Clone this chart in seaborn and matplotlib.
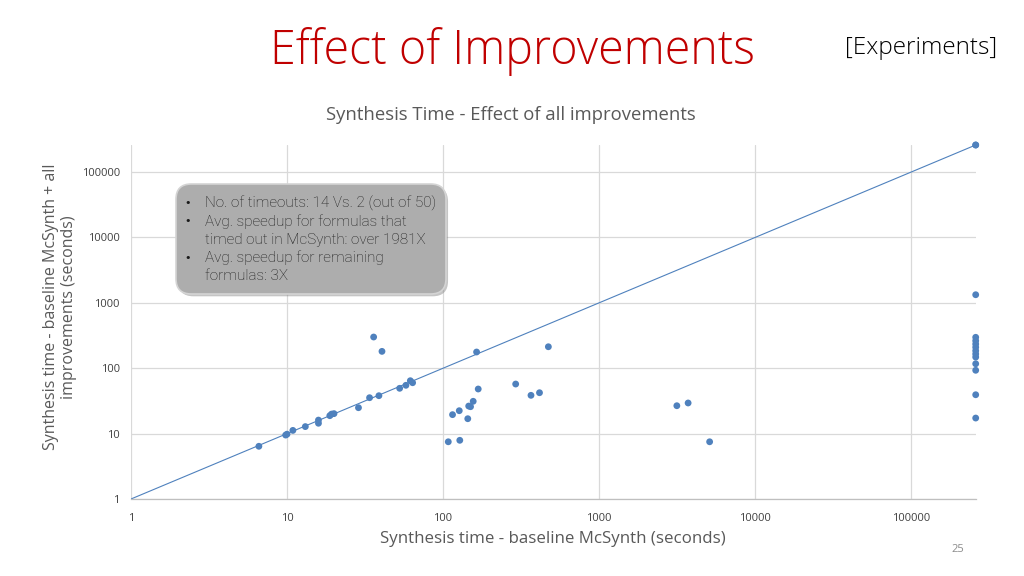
import matplotlib
matplotlib.use("Agg")
import matplotlib.pyplot as plt
import seaborn as sns
import pandas as pd
from matplotlib.patches import FancyBboxPatch

# ---- data (seconds) ----
TIMEOUT = 259200
baseline_time = [6.6, 9.8, 10.0, 10.9, 13.1, 15.9, 15.9, 18.8, 20.0, 19.3,
                 28.7, 33.8, 38.8, 52.7, 57.8, 61.7, 63.8, 35.9, 40.6, 164,
                 473, 108, 128, 115, 127, 144, 146, 150, 156, 168,
                 292, 366, 415, 3150, 3720, 5110,
                 TIMEOUT, TIMEOUT, TIMEOUT, TIMEOUT, TIMEOUT, TIMEOUT, TIMEOUT,
                 TIMEOUT, TIMEOUT, TIMEOUT, TIMEOUT, TIMEOUT, TIMEOUT, TIMEOUT]
improved_time = [6.4, 9.5, 9.8, 11.2, 12.8, 16.1, 14.4, 18.8, 20.2, 19.9,
                 24.9, 35.4, 38.0, 49.3, 54.8, 64.4, 60.0, 300, 181, 177,
                 213, 7.5, 7.9, 19.5, 22.4, 16.9, 26.4, 25.8, 31.2, 48.1,
                 57.3, 38.5, 42.2, 26.7, 29.4, 7.5,
                 TIMEOUT, TIMEOUT, 1330, 297, 263, 234, 209,
                 185, 165, 148, 117, 93, 39.3, 17.3]
tick_values = [1, 10, 100, 1000, 10000, 100000]
tick_labels = ["1", "10", "100", "1000", "10000", "100000"]

df = pd.DataFrame({"baseline": baseline_time, "improved": improved_time})

sns.set_style("white")
plt.rcParams["font.family"] = ["Open Sans", "DejaVu Sans"]

fig = plt.figure(figsize=(10.24, 5.76), dpi=100)
ax = fig.add_axes([131 / 1024, 1 - 499 / 576, (975.7 - 131) / 1024, (499 - 145) / 576])

blue = "#4F81BD"
ax.plot([1, TIMEOUT], [1, TIMEOUT], color=blue, lw=0.8, zorder=2)
sns.scatterplot(data=df, x="baseline", y="improved", ax=ax, color=blue,
                s=24, edgecolor="none", zorder=3, clip_on=False)

ax.set_xscale("log")
ax.set_yscale("log")
ax.set_xlim(1, TIMEOUT)
ax.set_ylim(1, TIMEOUT)
ax.set_xticks(tick_values)
ax.set_xticklabels(tick_labels)
ax.set_yticks(tick_values)
ax.set_yticklabels(tick_labels)
ax.minorticks_off()
ax.tick_params(axis="both", length=0, labelsize=8, labelcolor="#404040")
ax.tick_params(axis="x", pad=10)
ax.tick_params(axis="y", pad=8)
ax.grid(True, color="#D9D9D9", lw=0.9)
ax.set_axisbelow(True)
for s in ["top", "right", "left"]:
    ax.spines[s].set_visible(False)
ax.spines["bottom"].set_color("#BFBFBF")
ax.spines["bottom"].set_linewidth(0.9)

ax.set_xlabel("Synthesis time - baseline McSynth (seconds)", fontsize=12.2,
              color="#595959", va="center")
ax.xaxis.set_label_coords((553 - 131) / (975.7 - 131), -(539 - 499) / (499 - 145))
ax.set_ylabel("Synthesis time - baseline McSynth + all\nimprovements (seconds)",
              fontsize=11.5, color="#595959", linespacing=1.15, va="center")
ax.yaxis.set_label_coords(-(131 - 60) / (975.7 - 131), (499 - 307) / (499 - 145))

# titles
fig.text(512 / 1024, 1 - 51 / 576, "Effect of Improvements", color="#C00000",
         fontsize=33.5, ha="center", va="center", fontweight="light")
fig.text(921.5 / 1024, 1 - 48 / 576, "[Experiments]", color="#000000",
         fontsize=17.5, ha="center", va="center", fontweight="light")
fig.text(511 / 1024, 1 - 115 / 576, "Synthesis Time - Effect of all improvements",
         color="#595959", fontsize=13.3, ha="center", va="center")
fig.text(958 / 1024, 1 - 549 / 576, "25", color="#8C8C8C", fontsize=8,
         ha="center", va="center")

# annotation box with shadow
bx, by, bw, bh = 176 / 1024, 1 - 294 / 576, (446 - 176) / 1024, (294 - 184) / 576
shadow = FancyBboxPatch((bx + 0.002, by - 0.004), bw, bh,
                        boxstyle="round,pad=0,rounding_size=0.015",
                        transform=fig.transFigure, facecolor="#7F7F7F",
                        edgecolor="none", alpha=0.45, mutation_aspect=1024 / 576)
box = FancyBboxPatch((bx, by), bw, bh,
                     boxstyle="round,pad=0,rounding_size=0.015",
                     transform=fig.transFigure, facecolor="#ADADAD",
                     edgecolor="#D4D4D4", lw=1.2, mutation_aspect=1024 / 576)
fig.patches.extend([shadow, box])

lines = [("•", "No. of timeouts: 14 Vs. 2 (out of 50)"),
         ("•", "Avg. speedup for formulas that"),
         ("", "timed out in McSynth: over 1981X"),
         ("•", "Avg. speedup for remaining"),
         ("", "formulas: 3X")]
y0 = 203
for i, (b, t) in enumerate(lines):
    yy = 1 - (y0 + i * 18.3) / 576
    if b:
        fig.text(188 / 1024, yy, b, fontsize=8, color="#1A1A1A", va="center",
                 ha="center", family=["DejaVu Sans"])
    fig.text(205 / 1024, yy, t, fontsize=11, color="#1A1A1A", va="center",
             family=["Roboto", "DejaVu Sans"], fontweight="light")

fig.savefig("out.png", dpi=100)
